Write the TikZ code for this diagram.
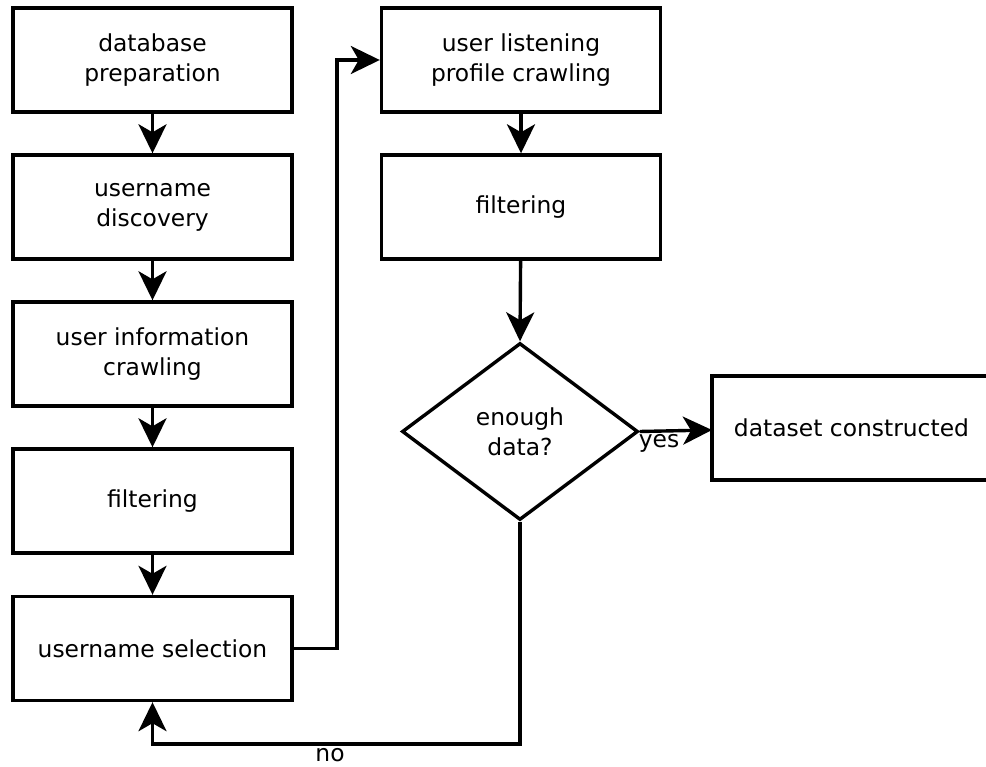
\documentclass[tikz,border=0pt]{standalone}
\usepackage{fontspec}
\setmainfont{DejaVu Sans}
\usetikzlibrary{arrows.meta,shapes.geometric}
\begin{document}
\begin{tikzpicture}[x=1pt,y=-1pt,
  line width=3.4pt,
  box/.style={draw,rectangle,minimum width=279pt,minimum height=104pt,align=center,inner sep=0pt,
    font=\fontsize{23.4}{30}\selectfont},
  dec/.style={draw,diamond,aspect=1.333,minimum width=236pt,minimum height=177pt,inner sep=0pt,align=center,
    font=\fontsize{23.4}{30}\selectfont},
  arr/.style={-{Stealth[length=29pt,width=28pt,inset=8pt]},line width=3.4pt},
  lbl/.style={font=\fontsize{23.4}{28}\selectfont,inner sep=0pt}]
\useasboundingbox (0,0) rectangle (986,767);
\fill[white] (0,0) rectangle (986,767);
\node[box] (b1) at (152.5,60) {database\\preparation};
\node[box] (b2) at (152.5,207) {username\\discovery};
\node[box] (b3) at (152.5,354) {user information\\crawling};
\node[box] (b4) at (152.5,501) {filtering};
\node[box] (b5) at (152.5,648.5) {username selection};
\node[box] (r1) at (521,60) {user listening\\profile crawling};
\node[box] (r2) at (521,207) {filtering};
\node[dec] (d) at (520,431.5) {enough\\data?};
\draw (995,376) -- (712,376) -- (712,480) -- (995,480);
\node[lbl] (dc) at (851.5,428) {dataset constructed};
\coordinate (dl) at (712,430);
\draw[arr] (b1) -- (b2);
\draw[arr] (b2) -- (b3);
\draw[arr] (b3) -- (b4);
\draw[arr] (b4) -- (b5);
\draw[arr] (b5.east) -- (337,648.5) |- (r1.west);
\draw[arr] (r1) -- (r2);
\draw[arr] (r2) -- (d.north);
\draw[arr] (d.east) -- (dl);
\node[lbl] (yes) at (659,443) {yes};
\draw[arr] (d.south) -- (520,744) -| (b5.south);
\node[lbl] (no) at (330,755) {no};
\end{tikzpicture}
\end{document}
